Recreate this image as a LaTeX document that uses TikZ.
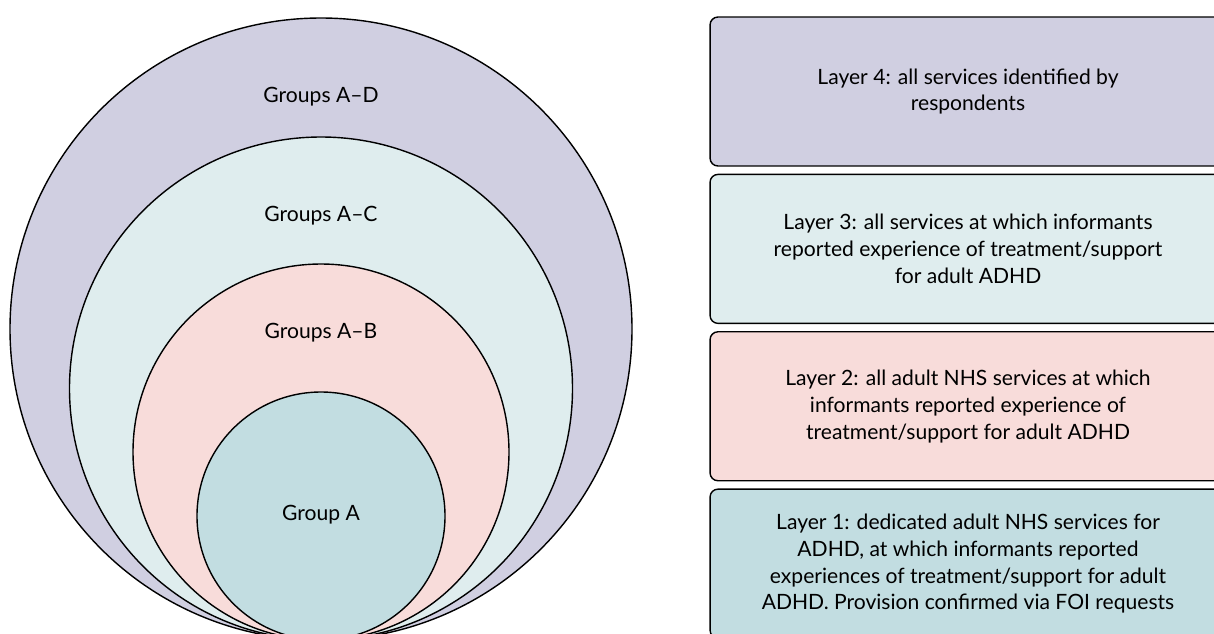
\documentclass[tikz,border=0pt]{standalone}
\usepackage{fontspec}
\setmainfont{Lato}
\usepackage{xcolor}
\usetikzlibrary{positioning}

\definecolor{layerD}{HTML}{D0CFE1}
\definecolor{layerC}{HTML}{DFEDEE}
\definecolor{layerB}{HTML}{F8DCDA}
\definecolor{layerA}{HTML}{C2DDE1}

\tikzset{
    ring/.style={draw=black, line width=0.8pt},
    grouplabel/.style={font=\fontsize{12}{15}\selectfont},
    layerbox/.style={draw=black, line width=0.8pt, rounded corners=4.5pt,
        minimum width=10.32cm, minimum height=2.98cm, inner sep=0pt,
        align=center, font=\fontsize{12}{15.3}\selectfont}
}

\begin{document}
\begin{tikzpicture}[x=0.02cm, y=-0.02cm]
    \clip (0,0) rectangle (1214,633);
    \begin{scope}
        % Nested groups, all touching at the bottom
        \foreach \r/\col in {311/layerD, 251.5/layerC, 188/layerB, 124/layerA} {
            \filldraw[ring, fill=\col] (321,640-\r) circle (\r);
        }

        % Group labels
        \node[grouplabel] (grpD) at (321,97) {Groups A–D};
        \node[grouplabel] (grpC) at (321,216) {Groups A–C};
        \node[grouplabel] (grpB) at (321,333) {Groups A–B};
        \node[grouplabel] (grpA) at (321,515) {Group A};
    \end{scope}

    \begin{scope}
        % Layer boxes
        \node[layerbox, fill=layerD] (lay4) at (968,91.5)
            {Layer 4: all services identified by\\respondents};
        \node[layerbox, fill=layerC, below=0.14cm of lay4] (lay3)
            {Layer 3: all services at which informants\\reported experience of treatment/support\\for adult ADHD};
        \node[layerbox, fill=layerB, below=0.14cm of lay3] (lay2)
            {Layer 2: all adult NHS services at which\\informants reported experience of\\treatment/support for adult ADHD};
        \node[layerbox, fill=layerA, below=0.14cm of lay2] (lay1)
            {Layer 1: dedicated adult NHS services for\\ADHD, at which informants reported\\experiences of treatment/support for adult\\ADHD. Provision confirmed via FOI requests};
    \end{scope}
\end{tikzpicture}
\end{document}
